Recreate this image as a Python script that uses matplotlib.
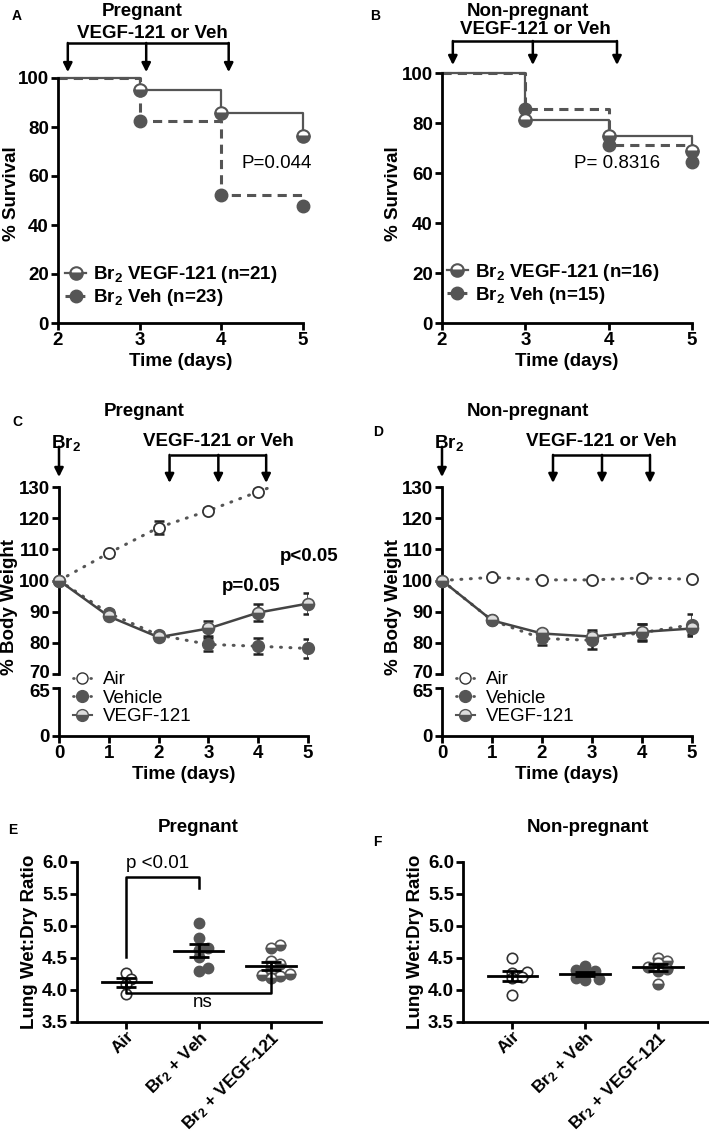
import numpy as np
import matplotlib.pyplot as plt
from matplotlib.lines import Line2D
from matplotlib.transforms import ScaledTranslation

plt.rcParams['font.family'] = ['Liberation Sans', 'DejaVu Sans']
plt.rcParams['font.weight'] = 'bold'
plt.rcParams['axes.labelweight'] = 'bold'
plt.rcParams['mathtext.default'] = 'regular'
plt.rcParams['font.size'] = 13.5

W, H = 709, 1135
FS = 13.5
GREY = '#555555'
EDGE = '#333333'
DOT = (0, (0.3, 2.8))

# survival (A, B)
days_surv = [2, 3, 4, 5]
surv_preg_vegf = [100, 95.2, 85.7, 76.2]
surv_preg_veh = [100, 82.6, 52.2, 47.8]
surv_np_vegf = [100, 81.25, 75.0, 68.75]
surv_np_veh = [100, 85.7, 71.4, 64.3]

# body weight (C, D)
days_bw = [0, 1, 2, 3, 4, 5]
bw_preg_air = [100, 108.8, 117.0, 122.4, 128.5, 134.3]
bw_preg_air_err = [0, 0.8, 2.0, 0.8, 0.8, 0]
bw_preg_veh = [100, 89.5, 82.5, 79.5, 78.9, 78.2]
bw_preg_veh_err = [0, 1.0, 1.0, 2.0, 2.6, 3.0]
bw_preg_vegf = [100, 88.5, 81.8, 84.6, 89.7, 92.6]
bw_preg_vegf_err = [0, 1.0, 1.0, 2.4, 2.6, 3.4]
bw_np_air = [100, 101.0, 100.2, 100.2, 100.8, 100.4]
bw_np_air_err = [0, 0.5, 0.5, 0.5, 0.5, 0.5]
bw_np_veh = [100, 87.2, 81.4, 80.8, 83.3, 85.8]
bw_np_veh_err = [0, 0.8, 2.2, 2.8, 2.6, 3.5]
bw_np_vegf = [100, 87.2, 83.0, 82.0, 83.5, 84.6]
bw_np_vegf_err = [0, 0.8, 1.0, 2.0, 2.5, 1.8]

# lung wet:dry (E, F)
groups = ['Air', 'Br$_2$ + Veh', 'Br$_2$ + VEGF-121']
wd_preg_air = [4.27, 4.17, 4.10, 3.94]
wd_preg_veh = [5.05, 4.81, 4.65, 4.62, 4.52, 4.30, 4.34]
wd_preg_vegf = [4.70, 4.66, 4.45, 4.40, 4.36, 4.27, 4.25, 4.22, 4.18, 4.24]
wd_np_air = [4.50, 4.28, 4.27, 4.20, 4.18, 3.92]
wd_np_veh = [4.38, 4.31, 4.29, 4.25, 4.18, 4.17, 4.16]
wd_np_vegf = [4.50, 4.46, 4.42, 4.36, 4.33, 4.30, 4.10]

fig = plt.figure(figsize=(W / 100, H / 100), dpi=100)


def add_ax(l, t, r, b):
    return fig.add_axes([l / W, 1 - b / H, (r - l) / W, (b - t) / H])


def ftext(x, y, s, **kw):
    kw.setdefault('ha', 'center')
    kw.setdefault('va', 'center')
    kw.setdefault('fontsize', FS)
    fig.text(x / W, 1 - y / H, s, **kw)


def style(ax, bottom=True):
    ax.spines['top'].set_visible(False)
    ax.spines['right'].set_visible(False)
    ax.spines['left'].set_linewidth(2)
    ax.spines['bottom'].set_linewidth(2)
    ax.spines['bottom'].set_visible(bottom)
    ax.tick_params(width=2, length=5, labelsize=FS, pad=1.5)
    ax.patch.set_alpha(0)


def arrow(ax, x, y0, y1):
    ax.annotate('', xy=(x, y1), xytext=(x, y0),
                arrowprops=dict(arrowstyle='-|>', color='k', lw=1.8,
                                mutation_scale=13, shrinkA=0, shrinkB=0),
                annotation_clip=False)


def bracket(ax, xs, ybar, ytip):
    ax.plot([xs[0], xs[-1]], [ybar, ybar], color='k', lw=1.8,
            clip_on=False, solid_capstyle='butt')
    for x in xs:
        arrow(ax, x, ybar, ytip)


def survival(ax, vegf, veh, labels, ptxt, pxy, arrows, ybar, ytip, leg):
    style(ax)
    ax.set_xlim(2, 5)
    ax.set_ylim(0, 100)
    ax.set_xticks([2, 3, 4, 5])
    ax.set_yticks([0, 20, 40, 60, 80, 100])
    ax.step(days_surv, vegf, where='post', color=GREY, lw=1.6, zorder=2,
            clip_on=False)
    ax.step(days_surv, veh, where='post', color=GREY, lw=2.2,
            ls=(0, (3, 2)), zorder=2, clip_on=False)
    ax.plot(days_surv[1:], vegf[1:], 'o', ms=9, fillstyle='bottom',
            mfc=GREY, markerfacecoloralt='white', mec=GREY, mew=1.5,
            clip_on=False, zorder=4)
    ax.plot(days_surv[1:], veh[1:], 'o', ms=9, color=GREY,
            clip_on=False, zorder=3)
    ax.text(pxy[0], pxy[1], ptxt, ha='center', va='center',
            fontweight='normal', fontsize=FS)
    ax.set_xlabel('Time (days)', fontsize=FS, labelpad=3)
    h = [Line2D([], [], color=GREY, lw=1.6, marker='o', ms=9,
                fillstyle='bottom', mfc=GREY, markerfacecoloralt='white',
                mec=GREY, mew=1.5),
         Line2D([], [], color=GREY, lw=2.2, ls=(0, (1.5, 1)), marker='o',
                ms=9)]
    ax.legend(h, labels, loc='upper left', bbox_to_anchor=leg,
              frameon=False, fontsize=FS, handlelength=1.1,
              handletextpad=0.4, labelspacing=0.12, borderpad=0,
              borderaxespad=0)
    bracket(ax, arrows, ybar, ytip)


# ---- A
axA = add_ax(58, 78, 303, 323)
survival(axA, surv_preg_vegf, surv_preg_veh,
         ['Br$_2$ VEGF-121 (n=21)', 'Br$_2$ Veh (n=23)'],
         'P=0.044', (4.68, 65), [2.12, 3.08, 4.09], 114.3, 102.4,
         (0.03, 0.24))
ftext(142, 11, 'Pregnant')
ftext(152, 34, 'VEGF-121 or Veh')
ftext(17, 16, 'A', fontsize=10)
ftext(12, 194, '% Survival', rotation=90)

# ---- B
axB = add_ax(442, 73, 692, 323)
survival(axB, surv_np_vegf, surv_np_veh,
         ['Br$_2$ VEGF-121 (n=16)', 'Br$_2$ Veh (n=15)'],
         'P= 0.8316', (4.1, 64), [2.13, 3.09, 4.1], 112.8, 103.2,
         (0.02, 0.245))
ftext(528, 12, 'Non-pregnant')
ftext(535, 30, 'VEGF-121 or Veh')
ftext(375, 16, 'B', fontsize=10)
ftext(393, 194, '% Survival', rotation=90)


def nudge(labels, dy):
    # shift the tick labels next to the axis break apart a little
    for t in labels:
        t.set_transform(t.get_transform() +
                        ScaledTranslation(0, dy / 72, fig.dpi_scale_trans))


def weight(l, r, air, air_err, veh, veh_err, vegf, vegf_err):
    top = add_ax(l, 487, r, 674)
    bot = add_ax(l, 688, r, 736)
    style(top, bottom=False)
    style(bot)
    top.set_xlim(0, 5)
    bot.set_xlim(0, 5)
    top.set_ylim(70, 130)
    bot.set_ylim(0, 65)
    top.set_xticks([])
    top.set_yticks([70, 80, 90, 100, 110, 120, 130])
    bot.set_yticks([0, 65])
    bot.set_xticks([0, 1, 2, 3, 4, 5])
    nudge(top.get_yticklabels()[:1], 1.5)
    nudge(bot.get_yticklabels()[-1:], -1.5)
    bot.set_xlabel('Time (days)', fontsize=FS, labelpad=3)
    d = np.array(days_bw)
    air = np.array(air)
    vis = air <= 130
    top.plot(d, air, ls=DOT, color=GREY, lw=2.2,
             dash_capstyle='round', zorder=2)
    top.errorbar(d[vis], air[vis], yerr=np.array(air_err)[vis], fmt='none',
                 ecolor='#222222', elinewidth=1.8, capsize=3.5, capthick=1.8,
                 zorder=3)
    top.plot(d[vis][1:], air[vis][1:], 'o', ms=8, mfc='white', mec=EDGE,
             mew=1.3, clip_on=False, zorder=5)
    top.plot(d, veh, ls=DOT, color=GREY, lw=2.2,
             dash_capstyle='round', zorder=2)
    top.errorbar(d, veh, yerr=veh_err, fmt='none', ecolor='#222222',
                 elinewidth=1.8, capsize=3.5, capthick=1.8, zorder=3)
    top.plot(d, veh, 'o', ms=8.5, color=GREY, ls='none', clip_on=False,
             zorder=4)
    top.plot(d, vegf, '-', color='#444444', lw=1.8, zorder=2,
             clip_on=False)
    top.errorbar(d, vegf, yerr=vegf_err, fmt='none', ecolor='#222222',
                 elinewidth=1.8, capsize=3.5, capthick=1.8, zorder=3)
    top.plot(d, vegf, 'o', ms=8.5, fillstyle='bottom', mfc=GREY,
             markerfacecoloralt='#dddddd', mec=GREY, mew=1.2, ls='none',
             clip_on=False, zorder=4)
    h = [Line2D([], [], ls=DOT, color=GREY, lw=2, dash_capstyle='round',
                marker='o', ms=8, mfc='white', mec=EDGE),
         Line2D([], [], ls=DOT, color=GREY, lw=2, dash_capstyle='round',
                marker='o', ms=8.5),
         Line2D([], [], ls='-', color=GREY, lw=1.5, marker='o', ms=8.5,
                fillstyle='bottom', mfc=GREY, markerfacecoloralt='#dddddd',
                mec=GREY)]
    fig.legend(h, ['Air', 'Vehicle', 'VEGF-121'], loc='upper left',
               bbox_to_anchor=((l + 14) / W, 1 - 671 / H), frameon=False,
               prop={'weight': 'normal', 'size': FS},
               handlelength=1.0, handletextpad=0.6, labelspacing=0.08,
               borderpad=0, borderaxespad=0)
    return top, bot


# ---- C
topC, botC = weight(59, 308, bw_preg_air, bw_preg_air_err, bw_preg_veh,
                    bw_preg_veh_err, bw_preg_vegf, bw_preg_vegf_err)
arrow(topC, 0, 142.9, 133.2)
bracket(topC, [2.22, 3.2, 4.16], 140.3, 131.3)
topC.text(3.86, 98.1, 'p=0.05', ha='center', va='center', fontsize=FS)
topC.text(5.02, 107.7, 'p<0.05', ha='center', va='center', fontsize=FS)
ftext(144, 411, 'Pregnant')
ftext(66, 443, 'Br$_2$')
ftext(218, 442, 'VEGF-121 or Veh')
ftext(17, 422, 'C', fontsize=10)
ftext(10, 607, '% Body Weight', rotation=90)

# ---- D
topD, botD = weight(442, 692, bw_np_air, bw_np_air_err, bw_np_veh,
                    bw_np_veh_err, bw_np_vegf, bw_np_vegf_err)
arrow(topD, 0, 142.9, 133.2)
bracket(topD, [2.22, 3.2, 4.16], 140.3, 131.3)
ftext(528, 411, 'Non-pregnant')
ftext(449, 443, 'Br$_2$')
ftext(601, 442, 'VEGF-121 or Veh')
ftext(378, 432, 'D', fontsize=10)
ftext(393, 607, '% Body Weight', rotation=90)


def swarm(vals, sx=72.5, sy=128.0, dia=10.5):
    vals = np.asarray(vals, float)
    offs = np.zeros(len(vals))
    placed = []
    for i in np.argsort(vals):
        v = vals[i]
        found = None
        for k in range(0, 30):
            for c in ([0.0] if k == 0 else [k * 0.45, -k * 0.45]):
                dx = c * dia / sx
                if all(((dx - px) * sx) ** 2 + ((v - py) * sy) ** 2
                       >= (0.92 * dia) ** 2 for px, py in placed):
                    found = dx
                    break
            if found is not None:
                break
        placed.append((found, v))
        offs[i] = found
    return offs


def wetdry(l, r, air, veh, vegf, xmax):
    ax = add_ax(l, 862, r, 1022)
    style(ax)
    ax.set_ylim(3.5, 6.0)
    ax.set_xlim(-0.68, xmax)
    ax.set_yticks([3.5, 4.0, 4.5, 5.0, 5.5, 6.0])
    ax.set_yticklabels(['3.5', '4.0', '4.5', '5.0', '5.5', '6.0'])
    ax.set_xticks([0, 1, 2])
    ax.set_xticklabels(groups, rotation=45, ha='right',
                       rotation_mode='anchor', fontsize=12.5)
    ax.tick_params(axis='x', pad=0)
    styles = [dict(mfc='white', mec=EDGE, mew=1.2),
              dict(mfc=GREY, mec=GREY),
              dict(fillstyle='bottom', mfc=GREY,
                   markerfacecoloralt='white', mec=GREY, mew=1.2)]
    for x, vals, st in zip([0, 1, 2], [air, veh, vegf], styles):
        ax.plot(x + swarm(vals), vals, 'o', ms=7.5, ls='none', zorder=2,
                **st)
        m = np.mean(vals)
        s = np.std(vals, ddof=1) / np.sqrt(len(vals))
        ax.plot([x - 0.34, x + 0.34], [m, m], color='k', lw=2, zorder=4)
        ax.errorbar(x, m, yerr=s, fmt='none', ecolor='k', elinewidth=2,
                    capsize=7, capthick=2, zorder=4)
    ax.set_ylabel('Lung Wet:Dry Ratio', fontsize=FS, labelpad=3)
    return ax


# ---- E
axE = wetdry(77, 321, wd_preg_air, wd_preg_veh, wd_preg_vegf, 2.69)
axE.plot([0, 0, 1, 1], [4.52, 5.77, 5.77, 5.6], color='k', lw=1.8)
axE.text(0.43, 5.98, 'p <0.01', ha='center', va='center',
         fontweight='normal', fontsize=FS)
axE.plot([0, 0, 2, 2], [4.1, 3.96, 3.96, 4.37], color='k', lw=1.8, zorder=3)
axE.text(1.05, 3.8, 'ns', ha='center', va='center', fontweight='normal',
         fontsize=FS)
ftext(198, 827, 'Pregnant')
ftext(13, 830, 'E', fontsize=10)

# ---- F
axF = wetdry(463, 712, wd_np_air, wd_np_veh, wd_np_vegf, 2.745)
ftext(588, 827, 'Non-pregnant')
ftext(377, 842, 'F', fontsize=10)

fig.savefig('out.png', dpi=100)
